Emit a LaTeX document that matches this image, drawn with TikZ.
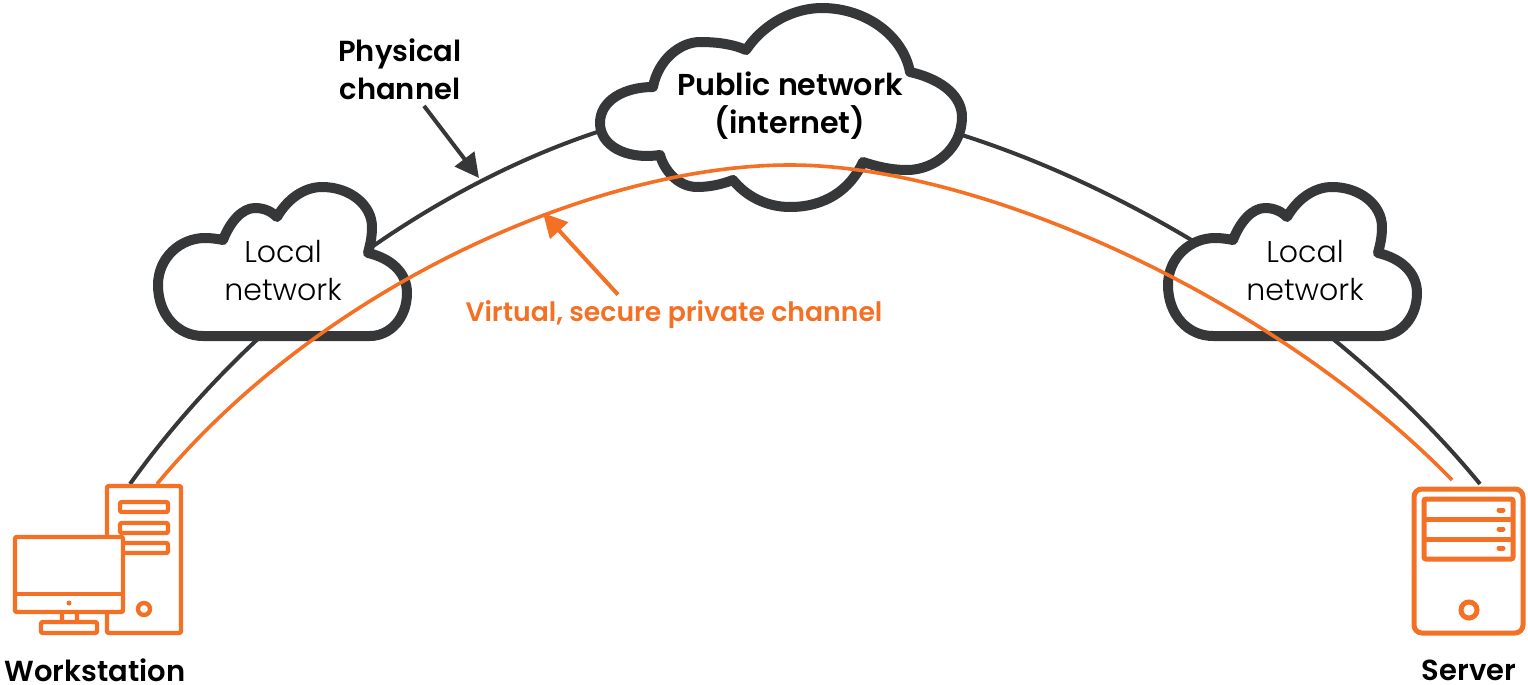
\documentclass[tikz,border=0pt]{standalone}
\usepackage{fontspec}
\setmainfont[BoldFont={Poppins SemiBold}]{Poppins Light}
\usepackage{xcolor}
\usetikzlibrary{arrows.meta}
\definecolor{linkgray}{HTML}{363739}
\definecolor{vpnorange}{HTML}{F47024}

\begin{document}
\begin{tikzpicture}[
  x=0.5pt, y=-0.5pt,
  title/.style={align=center, inner sep=0pt, font=\fontsize{14.5}{19}\selectfont\bfseries, text=black},
  thin label/.style={align=center, inner sep=0pt, font=\fontsize{15}{19}\selectfont, text=black},
  physline/.style={draw=linkgray, line width=2pt},
  vpnline/.style={draw=vpnorange, line width=1.8pt},
  cloudline/.style={draw=linkgray, fill=white, line width=5pt, line join=round},
  device/.style={draw=vpnorange, fill=white, line width=2.2pt, rounded corners=1pt},
  arr/.style={-{Triangle[length=12pt, width=12pt]}},
  localcloud/.pic={
    \path[cloudline] (223,240)
      .. controls (230,222) and (242,208) .. (255,208)
      .. controls (265,208) and (272,212) .. (277,217)
      .. controls (288,198) and (305,187) .. (322,187)
      .. controls (350,187) and (372,205) .. (372,227)
      .. controls (372,238) and (370,245) .. (368,253)
      .. controls (390,258) and (407,272) .. (407,293)
      .. controls (407,318) and (390,336) .. (370,336)
      -- (203,336)
      .. controls (178,336) and (158,315) .. (158,285)
      .. controls (158,258) and (180,238) .. (205,238)
      .. controls (212,238) and (218,239) .. (223,240)
      -- cycle;
  }
]
\useasboundingbox (0,0) rectangle (1528,685);

% ends of the two channels
\coordinate (wsPhys) at (130,484);
\coordinate (wsVpn) at (157,484);
\coordinate (srvPhys) at (1480,484);
\coordinate (srvVpn) at (1452,480);
\coordinate (physTip) at (479,178);
\coordinate (vpnTip) at (543,213);
\coordinate (physTop) at (780,100);
\coordinate (vpnTop) at (790,165);

\draw[physline] (wsPhys) .. controls (290,260) and (560,100) .. (physTop);
\draw[physline] (physTop) .. controls (1000,110) and (1300,265) .. (srvPhys);

% clouds
\pic at (0,0) {localcloud};
\pic at (1010,0) {localcloud};
\path[cloudline] (746,50)
  .. controls (765,22) and (795,8) .. (822,8)
  .. controls (865,8) and (903,35) .. (910,72)
  .. controls (945,80) and (962,98) .. (962,117)
  .. controls (962,148) and (935,170) .. (907,170)
  .. controls (890,170) and (875,166) .. (863,162)
  .. controls (850,190) and (825,207) .. (790,207)
  .. controls (765,207) and (745,195) .. (733,180)
  .. controls (720,185) and (708,187) .. (697,187)
  .. controls (678,187) and (664,170) .. (660,155)
  .. controls (625,160) and (600,145) .. (600,123)
  .. controls (600,100) and (625,87) .. (653,87)
  .. controls (658,60) and (680,42) .. (700,42)
  .. controls (720,42) and (735,45) .. (746,50)
  -- cycle;

\draw[vpnline] (wsVpn) .. controls (325,282) and (600,165) .. (vpnTop);
\draw[vpnline] (vpnTop) .. controls (980,165) and (1275,298) .. (srvVpn);

% workstation
\draw[device] (107,486) rectangle (181,633);
\foreach \y in {502,523,543} {
  \draw[device] (120,\y) rectangle (168,\y+10);
}
\draw[device] (144,609) circle (6);
\draw[device] (62,610) rectangle (77,625);
\draw[device] (41,622) rectangle (97,633);
\draw[device] (15,537) rectangle (123,612);
\draw[device] (15,594) -- (123,594);
\fill[vpnorange] (69,603) circle (2.5);

% server
\draw[device, line width=2.5pt, rounded corners=4pt] (1414,489) rectangle (1523,633);
\draw[device, line width=2.5pt] (1424,499) rectangle (1513,559);
\foreach \y in {510,529,548} {
  \draw[vpnorange, line width=2.5pt, line cap=round] (1499,\y) -- (1503,\y);
}
\draw[device, line width=2.5pt] (1424,519) -- (1513,519);
\draw[device, line width=2.5pt] (1424,539) -- (1513,539);
\draw[device, line width=2.5pt] (1469,610) circle (8);

% labels
\node[title, font=\fontsize{15.1}{19}\selectfont\bfseries] (public) at (790,106) {Public network\\(internet)};
\node[thin label] (localA) at (283,271) {Local\\network};
\node[thin label] (localB) at (1305,271) {Local\\network};
\node[title] (phys) at (400,69) {Physical\\channel};
\node[title, text=vpnorange, font=\fontsize{13.35}{19}\selectfont\bfseries] (vpn) at (674,315) {Virtual, secure private channel};
\node[title] (ws) at (95,670) {Workstation};
\node[title] (srv) at (1469,670) {Server};

\draw[arr, draw=linkgray, fill=linkgray, line width=2pt] ([xshift=12pt,yshift=-3pt]phys.south) -- (physTip);
\draw[arr, draw=vpnorange, fill=vpnorange, line width=2pt] ([xshift=-28pt,yshift=3pt]vpn.north) -- (vpnTip);
\end{tikzpicture}
\end{document}
